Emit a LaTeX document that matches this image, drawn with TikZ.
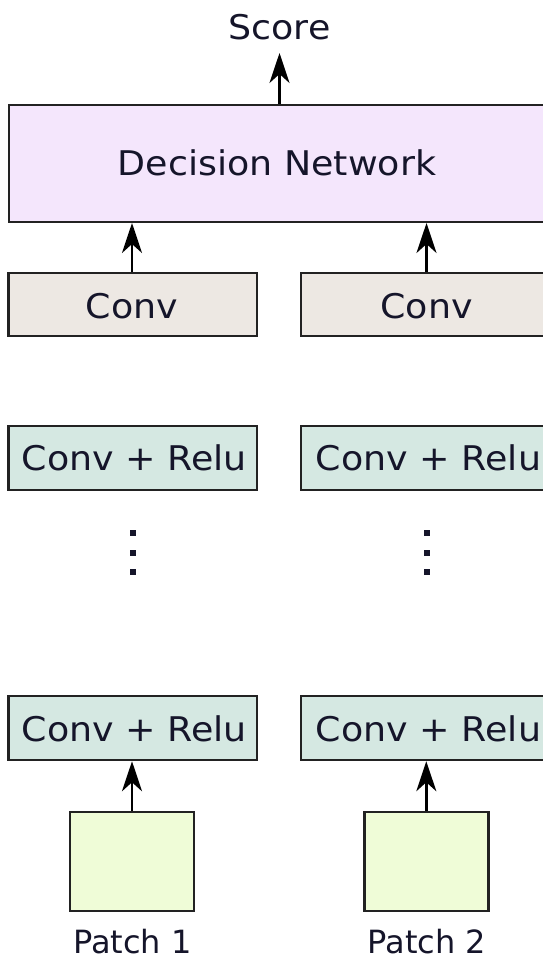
\documentclass[tikz,border=0pt]{standalone}
\usepackage{fontspec}
\setmainfont{DejaVu Sans}
\newfontfamily\widefont[FakeStretch=1.07]{DejaVu Sans}
\usetikzlibrary{arrows.meta}
\definecolor{dnfill}{HTML}{F4E6FC}
\definecolor{convfill}{HTML}{EDE8E3}
\definecolor{crfill}{HTML}{D5E8E2}
\definecolor{patchfill}{HTML}{EFFCD7}
\definecolor{edge}{HTML}{222222}
\definecolor{ink}{HTML}{15152A}
\tikzset{
  box/.style={draw=edge, line width=2.5pt, rectangle, inner sep=0pt},
  lbl/.style={anchor=base, inner sep=0pt, text=ink, font=\widefont\fontsize{34}{40}\selectfont},
  plbl/.style={anchor=base, inner sep=0pt, text=ink, font=\fontsize{32}{38}\selectfont},
  arr/.style={draw=black, line width=2.5pt, -{Stealth[length=30pt, width=20pt, inset=9pt]}},
  dotsq/.style={fill=ink}
}
\begin{document}
\begin{tikzpicture}[x=1pt, y=-1pt]
\useasboundingbox (0,0) rectangle (543,958);
\clip (0,0) rectangle (543,958);
% decision network
\node[box, fill=dnfill, minimum width=551pt, minimum height=116.7pt] (dn) at (284.3,163.4) {};
\node[lbl] (dnlabel) at (277,175) {Decision Network};
% score
\node[lbl] (score) at (279.5,39.5) {Score};
\coordinate (scoretip) at (279.5,53);
% conv
\node[box, fill=convfill, minimum width=248.3pt, minimum height=63.3pt] (convL) at (132.85,304.5) {};
\node[lbl] (convLlabel) at (132,318.4) {Conv};
\node[box, fill=convfill, minimum width=269pt, minimum height=63.3pt] (convR) at (435.5,304.5) {};
\node[lbl] (convRlabel) at (426.5,318.4) {Conv};
% conv + relu upper
\node[box, fill=crfill, minimum width=248.3pt, minimum height=64pt] (crUL) at (132.85,458) {};
\node[lbl] (crULlabel) at (134.5,470.7) {Conv + Relu};
\node[box, fill=crfill, minimum width=269pt, minimum height=64pt] (crUR) at (435.5,458) {};
\node[lbl] (crURlabel) at (428.5,470.7) {Conv + Relu};
% dots
\foreach \y in {533.3,552.7,572} {
  \fill[dotsq] (130.3,\y-3) rectangle ++(6,6);
  \fill[dotsq] (423.6,\y-3) rectangle ++(6,6);
}
% conv + relu lower
\node[box, fill=crfill, minimum width=248.3pt, minimum height=64pt] (crDL) at (132.85,728) {};
\node[lbl] (crDLlabel) at (134.5,741.7) {Conv + Relu};
\node[box, fill=crfill, minimum width=269pt, minimum height=64pt] (crDR) at (435.5,728) {};
\node[lbl] (crDRlabel) at (428.5,741.7) {Conv + Relu};
% patches
\node[box, fill=patchfill, minimum width=123.7pt, minimum height=99pt] (patchL) at (132,861.5) {};
\node[box, fill=patchfill, minimum width=124pt, minimum height=99pt] (patchR) at (426.3,861.5) {};
\node[plbl] (p1) at (132.5,953.5) {Patch 1};
\node[plbl] (p2) at (427,953.5) {Patch 2};
% arrows
\draw[arr] (scoretip |- dn.north) -- (scoretip);
\draw[arr] (convLlabel |- convL.north) -- (convLlabel |- dn.south);
\draw[arr] (convRlabel |- convR.north) -- (convRlabel |- dn.south);
\draw[arr] (patchL.north) -- (patchL.north |- crDL.south);
\draw[arr] (patchR.north) -- (patchR.north |- crDR.south);
\end{tikzpicture}
\end{document}
